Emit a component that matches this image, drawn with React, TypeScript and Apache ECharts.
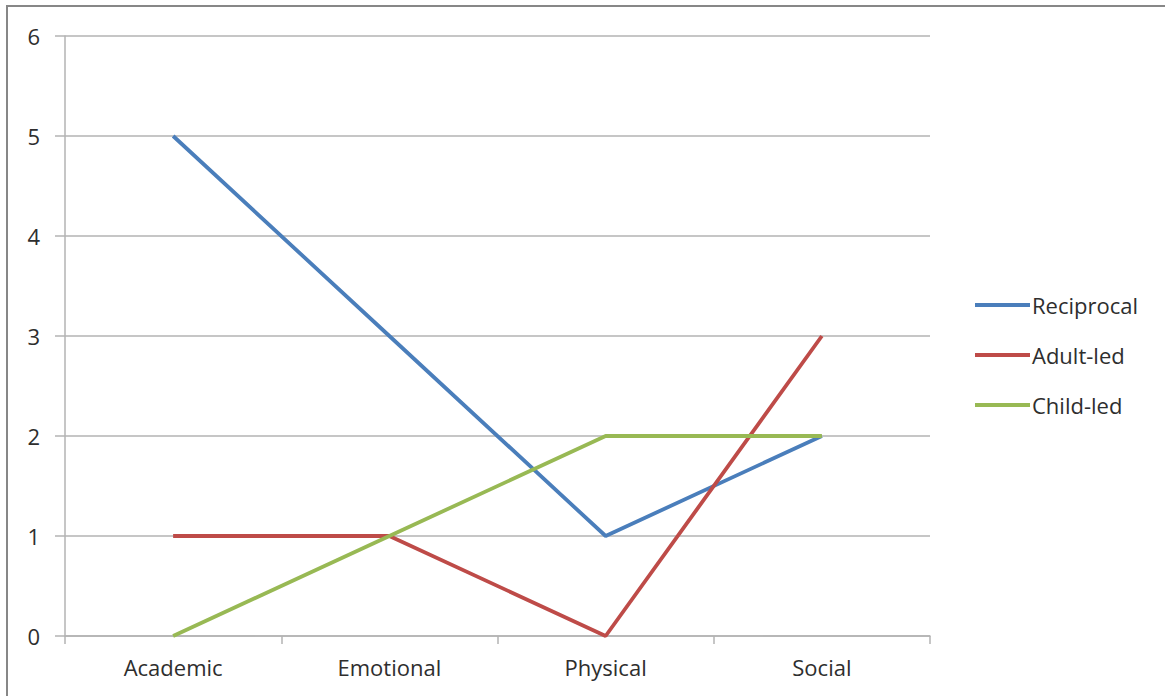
import React, { useEffect, useRef } from "react";
import * as echarts from "echarts";

const categories = ["Academic", "Emotional", "Physical", "Social"];
const reciprocal = [5, 3, 1, 2];
const adultLed = [1, 1, 0, 3];
const childLed = [0, 1, 2, 2];
const yTicks = [0, 1, 2, 3, 4, 5, 6];

export default function App() {
  const ref = useRef<HTMLDivElement>(null);
  useEffect(() => {
    if (!ref.current) return;
    const chart = echarts.init(ref.current, null, { renderer: "svg" });
    const font = "'Open Sans', sans-serif";
    const txt = "#2e2e2e";
    chart.setOption({
      animation: false,
      backgroundColor: "#ffffff",
      textStyle: { fontFamily: font },
      graphic: [
        {
          type: "rect",
          shape: { x: 7, y: 6, width: 1180, height: 720 },
          style: { fill: "none", stroke: "#878787", lineWidth: 2 },
          z: 10,
        },
      ],
      grid: { left: 65, right: 235, top: 36, bottom: 60 },
      legend: {
        orient: "vertical",
        left: 970,
        top: 289,
        icon: "rect",
        itemWidth: 55,
        itemHeight: 4,
        itemGap: 28,
        textStyle: { fontSize: 22, color: txt, fontFamily: font, padding: [0, 0, 0, -3] },
        data: ["Reciprocal", "Adult-led", "Child-led"],
      },
      xAxis: {
        type: "category",
        data: categories,
        boundaryGap: true,
        axisLine: { lineStyle: { color: "#b3b3b3", width: 1.5 } },
        axisTick: { show: true, length: 8, lineStyle: { color: "#b3b3b3", width: 1.5 } },
        axisLabel: { fontSize: 22, color: txt, margin: 20, fontFamily: font },
      },
      yAxis: {
        type: "value",
        min: 0,
        max: 6,
        interval: 1,
        axisLine: { show: true, lineStyle: { color: "#b3b3b3", width: 1.5 } },
        axisTick: { show: true, length: 10, lineStyle: { color: "#b3b3b3", width: 1.5 } },
        axisLabel: {
          fontSize: 22,
          color: txt,
          margin: 25,
          fontFamily: font,
          formatter: (v: number) => (yTicks.includes(v) ? String(v) : ""),
        },
        splitLine: { show: true, lineStyle: { color: "#b3b3b3", width: 1.5 } },
      },
      series: [
        {
          name: "Reciprocal",
          type: "line",
          data: reciprocal,
          symbol: "none",
          lineStyle: { color: "#4a7ebb", width: 3.8 },
          itemStyle: { color: "#4a7ebb" },
        },
        {
          name: "Adult-led",
          type: "line",
          data: adultLed,
          symbol: "none",
          lineStyle: { color: "#be4b48", width: 3.8 },
          itemStyle: { color: "#be4b48" },
        },
        {
          name: "Child-led",
          type: "line",
          data: childLed,
          symbol: "none",
          lineStyle: { color: "#98b954", width: 3.8 },
          itemStyle: { color: "#98b954" },
        },
      ],
    });
    return () => chart.dispose();
  }, []);
  return (
    <div
      ref={ref}
      style={{ position: "absolute", left: 0, top: 0, width: 1165, height: 696 }}
    />
  );
}
